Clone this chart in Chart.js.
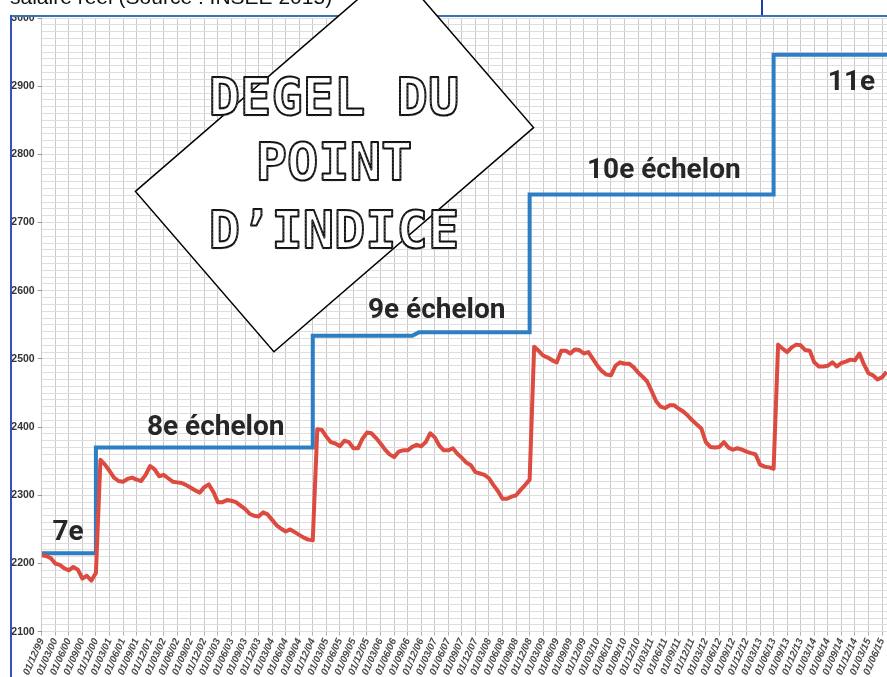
<!DOCTYPE html>
<html lang="fr">
<head>
<meta charset="utf-8">
<title>Dégel du point d'indice</title>
<script src="https://cdn.jsdelivr.net/npm/chart.js@4.4.1/dist/chart.umd.min.js"></script>
<style>
  html, body { margin: 0; padding: 0; background: #fff; overflow: hidden; }
  #wrap { position: relative; width: 887px; height: 677px; }
</style>
</head>
<body>
<div id="wrap"><canvas id="chart" width="887" height="677"></canvas></div>
<script>
// libellés trimestriels de l'axe x (un tick tous les 3 mois)
const quarterLabels = [
  '01/12/99',
  '01/03/00', '01/06/00', '01/09/00', '01/12/00',
  '01/03/01', '01/06/01', '01/09/01', '01/12/01',
  '01/03/02', '01/06/02', '01/09/02', '01/12/02',
  '01/03/03', '01/06/03', '01/09/03', '01/12/03',
  '01/03/04', '01/06/04', '01/09/04', '01/12/04',
  '01/03/05', '01/06/05', '01/09/05', '01/12/05',
  '01/03/06', '01/06/06', '01/09/06', '01/12/06',
  '01/03/07', '01/06/07', '01/09/07', '01/12/07',
  '01/03/08', '01/06/08', '01/09/08', '01/12/08',
  '01/03/09', '01/06/09', '01/09/09', '01/12/09',
  '01/03/10', '01/06/10', '01/09/10', '01/12/10',
  '01/03/11', '01/06/11', '01/09/11', '01/12/11',
  '01/03/12', '01/06/12', '01/09/12', '01/12/12',
  '01/03/13', '01/06/13', '01/09/13', '01/12/13',
  '01/03/14', '01/06/14', '01/09/14', '01/12/14',
  '01/03/15', '01/06/15'
];

// salaire réel, un point par mois depuis 12/1999
const salaireReel = [
  2212, 2211, 2208, 2200, 2198, 2193, 2190, 2195, 2191, 2178, 2182, 2175, 2186,
  2352, 2345, 2336, 2326, 2321, 2320, 2324, 2326, 2323, 2321, 2330, 2343, 2338,
  2328, 2330, 2325, 2320, 2319, 2318, 2315, 2311, 2307, 2304, 2312, 2316, 2305,
  2290, 2290, 2293, 2292, 2290, 2285, 2280, 2273, 2270, 2269, 2275, 2272, 2264,
  2256, 2251, 2247, 2250, 2246, 2242, 2238, 2235, 2234,
  2397, 2396, 2386, 2378, 2376, 2372, 2380, 2378, 2369, 2369, 2383, 2392, 2391,
  2384, 2376, 2367, 2360, 2356, 2364, 2366, 2366, 2371, 2374, 2372, 2378, 2391,
  2385, 2373, 2366, 2366, 2369, 2361, 2355, 2348, 2344, 2334, 2332, 2330, 2325,
  2315, 2306, 2295, 2295, 2298, 2300, 2308, 2315, 2323,
  2518, 2512, 2505, 2502, 2498, 2495, 2512, 2512, 2508, 2514, 2513, 2508, 2510,
  2500, 2490, 2482, 2477, 2476, 2490, 2495, 2493, 2493, 2488, 2480, 2474, 2467,
  2453, 2438, 2430, 2428, 2432, 2432, 2427, 2423, 2417, 2410, 2404, 2398, 2378,
  2371, 2370, 2371, 2378, 2370, 2367, 2369, 2367, 2364, 2362, 2360, 2345, 2342,
  2341, 2339,
  2521, 2515, 2510, 2517, 2521, 2520, 2513, 2512, 2495, 2489, 2489, 2490, 2495,
  2489, 2494, 2496, 2499, 2498, 2508, 2492, 2479, 2476, 2470, 2473, 2481
];

// traitement indiciaire (en escalier) : mois / valeur
const indiceMois = [0, 12, 12, 60, 60, 82, 83.5, 108, 108, 162, 162, 188];
const indiceVal  = [2215, 2215, 2370, 2370, 2534, 2534, 2539, 2539, 2741, 2741, 2946, 2946];

const echelonNames = ['7e', '8e échelon', '9e échelon', '10e échelon', '11e'];
const titleLines = ['DEGEL DU', 'POINT', 'D\u2019INDICE'];
const sourceText = 'salaire réel (Source : INSEE 2015)';

// décor : étiquettes d'échelon, cadre bleu, encadré tourné
const decorPlugin = {
  id: 'decor',
  beforeDraw(chart) {
    const c = chart.ctx;
    c.save();
    c.fillStyle = '#fff';
    c.fillRect(0, 0, chart.width, chart.height);
    c.restore();
  },
  afterDraw(chart) {
    const c = chart.ctx;
    const xs = chart.scales.x, ys = chart.scales.y;
    // où poser chaque libellé (mois, valeur)
    const spots = [[2.4, 2234], [23.3, 2388], [72.2, 2560], [120.7, 2765], [174, 2894]];
    c.save();
    c.font = 'bold 28px Roboto';
    c.fillStyle = '#262626';
    c.textBaseline = 'alphabetic';
    echelonNames.forEach((t, i) => {
      c.fillText(t, xs.getPixelForValue(spots[i][0]), ys.getPixelForValue(spots[i][1]));
    });

    // bande blanche du haut + texte coupé
    c.fillStyle = '#fff';
    c.fillRect(0, 0, chart.width, 15);
    c.fillRect(0, 0, 10, chart.height);
    c.fillStyle = '#111';
    c.font = '21px "Liberation Sans", Arial, sans-serif';
    c.fillText(sourceText, 10, 4);

    // cadre bleu
    c.strokeStyle = '#3d72b8';
    c.lineWidth = 2;
    c.beginPath(); c.moveTo(10, 16); c.lineTo(chart.width, 16); c.stroke();
    c.strokeStyle = '#3352bb';
    c.beginPath(); c.moveTo(11, 15); c.lineTo(11, chart.height); c.stroke();
    c.strokeStyle = '#1f3ca8';
    c.beginPath(); c.moveTo(762, 0); c.lineTo(762, 15); c.stroke();

    // encadré tourné
    c.save();
    c.translate(334.5, 159.5);
    c.rotate(-40.8 * Math.PI / 180);
    c.fillStyle = '#fff';
    c.fillRect(-171.5, -106, 343, 212);
    c.strokeStyle = '#000';
    c.lineWidth = 1.5;
    c.strokeRect(-171.5, -106, 343, 212);
    c.restore();

    c.font = 'bold 52px "DejaVu Sans Mono", monospace';
    c.textAlign = 'center';
    c.textBaseline = 'middle';
    c.lineJoin = 'round';
    const ty = [101, 166, 234];
    titleLines.forEach((t, i) => {
      c.fillStyle = '#fff';
      c.fillText(t, 334, ty[i]);
      c.strokeStyle = '#111';
      c.lineWidth = 2;
      c.strokeText(t, 334, ty[i]);
      c.strokeStyle = '#777';
      c.lineWidth = 0.6;
      c.setLineDash([1.5, 2]);
      c.strokeText(t, 334, ty[i] + 1.5);
      c.setLineDash([]);
    });
    c.restore();
  }
};

new Chart(document.getElementById('chart'), {
  type: 'line',
  data: {
    datasets: [
      {
        label: 'Salaire réel',
        data: salaireReel.map((v, i) => ({ x: i, y: v })),
        borderColor: '#dc4a40',
        borderWidth: 4,
        pointRadius: 0,
        tension: 0,
        borderJoinStyle: 'round'
      },
      {
        label: 'Échelon',
        data: indiceMois.map((m, i) => ({ x: m, y: indiceVal[i] })),
        borderColor: '#2d7ec2',
        borderWidth: 4,
        pointRadius: 0,
        tension: 0
      }
    ]
  },
  options: {
    responsive: false,
    animation: false,
    devicePixelRatio: 1,
    layout: { padding: { top: 18, left: 0, right: 0, bottom: 0 } },
    plugins: { legend: { display: false }, tooltip: { enabled: false } },
    scales: {
      x: {
        type: 'linear',
        min: 0,
        max: 187.1,
        ticks: {
          stepSize: 3,
          autoSkip: false,
          includeBounds: false,
          minRotation: 66,
          maxRotation: 66,
          padding: 1,
          color: '#4a4a4a',
          font: { family: 'Liberation Sans', size: 10, weight: 'bold', style: 'italic' },
          callback: (v) => quarterLabels[v / 3] ?? ''
        },
        grid: { color: '#cbcbcb', lineWidth: 1, tickLength: 4, tickColor: '#b0b0b0' },
        border: { display: false },
        afterFit(scale) {
          scale.height = 45.3;
          scale.paddingLeft = 0;
          scale.paddingRight = 0;
        }
      },
      y: {
        min: 2100,
        max: 3000,
        ticks: {
          stepSize: 10,
          autoSkip: false,
          padding: 3,
          color: '#333',
          font: { family: 'Liberation Sans', size: 10.5, weight: 'bold' },
          callback: (v) => (v % 100 === 0 ? v : '')
        },
        grid: {
          color: '#dedede',
          lineWidth: 1,
          tickLength: 4,
          tickColor: (ctx) => (ctx.tick && ctx.tick.value % 100 === 0 ? '#999' : 'rgba(0,0,0,0)')
        },
        border: { display: false },
        afterFit(scale) {
          scale.width = 41.7;
          scale.paddingTop = 0;
          scale.paddingBottom = 0;
        }
      }
    }
  },
  plugins: [decorPlugin]
});
</script>
</body>
</html>
